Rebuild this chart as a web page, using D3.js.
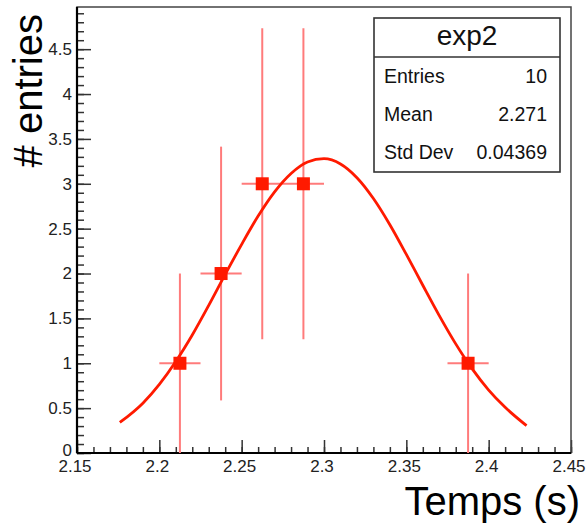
<!DOCTYPE html>
<html>
<head>
<meta charset="utf-8">
<script src="https://cdn.jsdelivr.net/npm/d3@7"></script>
<style>
html,body{margin:0;padding:0;background:#fff;}
svg{display:block;}
text{font-family:"Liberation Sans",Arial,Helvetica,sans-serif;}
</style>
</head>
<body>
<svg id="chart" width="587" height="523"></svg>
<script>
// ---- data ----
const binCenters = [2.2125, 2.2375, 2.2625, 2.2875, 2.3875];
const binCounts  = [1, 2, 3, 3, 1];
const binErrors  = [1, 1.414, 1.732, 1.732, 1];
const binWidth   = 0.025;

// fit curve
const fitX = [2.176, 2.19, 2.20, 2.21, 2.22, 2.23, 2.24, 2.25, 2.26, 2.27, 2.28, 2.29, 2.30,
              2.31, 2.32, 2.33, 2.34, 2.35, 2.36, 2.37, 2.38, 2.39, 2.40, 2.41, 2.423];
const fitY = [0.340, 0.555, 0.765, 1.020, 1.315, 1.645, 1.990, 2.325, 2.640, 2.910, 3.115, 3.243, 3.280,
              3.221, 3.068, 2.836, 2.544, 2.213, 1.869, 1.531, 1.216, 0.937, 0.701, 0.509, 0.305];

const xDomain = [2.15, 2.45];
const yDomain = [0, 4.97];
const xMajorTicks = [2.15, 2.2, 2.25, 2.3, 2.35, 2.4, 2.45];
const xTickLabels = ["2.15", "2.2", "2.25", "2.3", "2.35", "2.4", "2.45"];
const yMajorTicks = [0, 0.5, 1, 1.5, 2, 2.5, 3, 3.5, 4, 4.5];
const yTickLabels = ["0", "0.5", "1", "1.5", "2", "2.5", "3", "3.5", "4", "4.5"];

const statsTitle  = "exp2";
const statLabels  = ["Entries", "Mean", "Std Dev"];
const statValues  = ["10", "2.271", "0.04369"];
const xTitle = "Temps (s)";
const yTitle = "# entries";

// ---- layout ----
const L = 77, R = 571, T = 7, B = 453;
const svg = d3.select("#chart");
const x = d3.scaleLinear().domain(xDomain).range([L, R]);
const y = d3.scaleLinear().domain(yDomain).range([B, T]);

const xMinor = d3.range(0, 31).map(i => +(xDomain[0] + i * 0.01).toFixed(3));
const yMinor = d3.range(0, 50).map(i => +(i * 0.1).toFixed(2));

// minor ticks
svg.append("g").attr("transform", `translate(0,${B})`)
  .call(d3.axisBottom(x).tickValues(xMinor).tickSize(-6).tickFormat(""))
  .call(g => g.select(".domain").remove())
  .call(g => g.selectAll("line").attr("stroke", "#333").attr("stroke-width", 1.5));
svg.append("g").attr("transform", `translate(${L},0)`)
  .call(d3.axisLeft(y).tickValues(yMinor).tickSize(-7).tickFormat(""))
  .call(g => g.select(".domain").remove())
  .call(g => g.selectAll("line").attr("stroke", "#333").attr("stroke-width", 1.5));

// major ticks with labels
svg.append("g").attr("transform", `translate(0,${B})`)
  .call(d3.axisBottom(x).tickValues(xMajorTicks).tickSize(-13).tickPadding(8)
        .tickFormat((d, i) => xTickLabels[i]))
  .call(g => g.select(".domain").remove())
  .call(g => g.selectAll("line").attr("stroke", "#333").attr("stroke-width", 1.5))
  .call(g => g.selectAll("text").attr("font-size", 17).attr("fill", "#222")
        .attr("font-family", "Liberation Sans, Arial, sans-serif").attr("dx", -2.5)
        .attr("dy", "0.66em"));
svg.append("g").attr("transform", `translate(${L},0)`)
  .call(d3.axisLeft(y).tickValues(yMajorTicks).tickSize(-14).tickPadding(5)
        .tickFormat((d, i) => yTickLabels[i]))
  .call(g => g.select(".domain").remove())
  .call(g => g.selectAll("text").attr("font-size", 17).attr("fill", "#222")
        .attr("font-family", "Liberation Sans, Arial, sans-serif")
        .attr("dy", d => d === 0 ? "0.12em" : "0.32em"))
  .call(g => g.selectAll("line").attr("stroke", "#333").attr("stroke-width", 1.5));

// frame
svg.append("rect").attr("x", L).attr("y", T).attr("width", R - L).attr("height", B - T)
  .attr("fill", "none").attr("stroke", "#444").attr("stroke-width", 1.5);
svg.append("line").attr("x1", L).attr("x2", R).attr("y1", B).attr("y2", B)
  .attr("stroke", "#000").attr("stroke-width", 2.2);
svg.append("line").attr("x1", L).attr("x2", L).attr("y1", T).attr("y2", B)
  .attr("stroke", "#000").attr("stroke-width", 2.2);

// error bars
const pts = binCenters.map((c, i) => ({c, n: binCounts[i], e: binErrors[i]}));
const eg = svg.append("g").attr("stroke", "#ff7b7b").attr("stroke-width", 2);
eg.selectAll("line.v").data(pts).join("line").attr("class", "v")
  .attr("x1", d => x(d.c)).attr("x2", d => x(d.c))
  .attr("y1", d => y(Math.max(0, d.n - d.e))).attr("y2", d => y(d.n + d.e));
eg.selectAll("line.h").data(pts).join("line").attr("class", "h")
  .attr("x1", d => x(d.c - binWidth / 2)).attr("x2", d => x(d.c + binWidth / 2))
  .attr("y1", d => y(d.n)).attr("y2", d => y(d.n));

// markers
const ms = 13;
svg.append("g").selectAll("rect").data(pts).join("rect")
  .attr("x", d => x(d.c) - ms / 2).attr("y", d => y(d.n) - ms / 2)
  .attr("width", ms).attr("height", ms).attr("fill", "#ff1a00");

// fit curve
const line = d3.line().x(d => x(d[0])).y(d => y(d[1])).curve(d3.curveMonotoneX);
svg.append("path").datum(fitX.map((v, i) => [v, fitY[i]]))
  .attr("d", line).attr("fill", "none").attr("stroke", "#ff1a00").attr("stroke-width", 2.8);

// stats box
const bx0 = 374, by0 = 18, bx1 = 560, by1 = 172, sep = 57;
svg.append("rect").attr("x", bx0).attr("y", by0).attr("width", bx1 - bx0).attr("height", by1 - by0)
  .attr("fill", "#fff").attr("stroke", "#333").attr("stroke-width", 1.6);
svg.append("line").attr("x1", bx0).attr("x2", bx1).attr("y1", sep).attr("y2", sep)
  .attr("stroke", "#333").attr("stroke-width", 1.6);
svg.append("text").attr("x", (bx0 + bx1) / 2).attr("y", 45).attr("text-anchor", "middle")
  .attr("font-size", 28).attr("fill", "#111").text(statsTitle);
const rowY = [83, 121, 159];
svg.append("g").selectAll("text").data(statLabels).join("text")
  .attr("x", 384).attr("y", (d, i) => rowY[i]).attr("font-size", 19.5).attr("fill", "#111").text(d => d);
svg.append("g").selectAll("text").data(statValues).join("text")
  .attr("x", 547).attr("y", (d, i) => rowY[i]).attr("text-anchor", "end")
  .attr("font-size", 19.5).attr("fill", "#111").text(d => d);

// axis titles
svg.append("text").attr("x", 580).attr("y", 515).attr("text-anchor", "end")
  .attr("font-size", 40).attr("fill", "#000").text(xTitle);
svg.append("text").attr("transform", "translate(42,14) rotate(-90)").attr("text-anchor", "end")
  .attr("font-size", 40).attr("fill", "#000").text(yTitle);
</script>
</body>
</html>
